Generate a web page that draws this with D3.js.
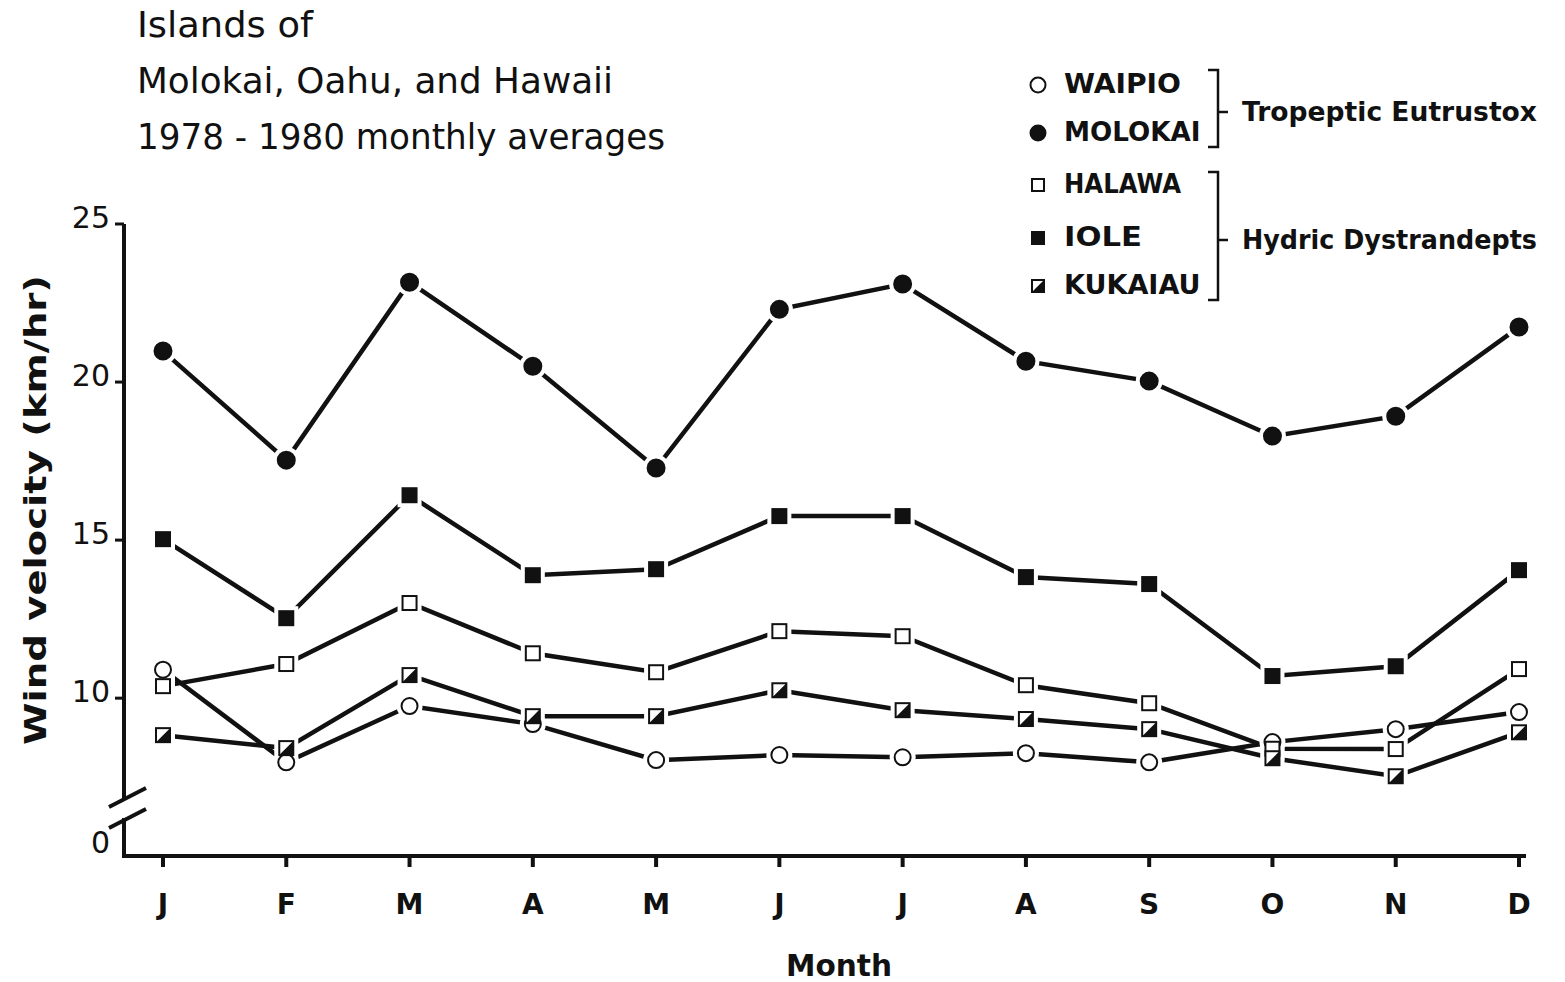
<!DOCTYPE html>
<html>
<head>
<meta charset="utf-8">
<script src="https://cdn.jsdelivr.net/npm/d3@7"></script>
<style>
  body { margin: 0; background: #fff; }
  text { font-family: "DejaVu Sans", sans-serif; fill: #111; }
</style>
</head>
<body>
<svg width="1565" height="982"></svg>
<script>
const months = ['J', 'F', 'M', 'A', 'M', 'J', 'J', 'A', 'S', 'O', 'N', 'D']
const yTicks = [0, 10, 15, 20, 25]

const waipio  = [10.9, 7.97, 9.75, 9.18, 8.04, 8.2, 8.13, 8.26, 7.97, 8.61, 9.02, 9.56]
const molokai = [20.98, 17.53, 23.16, 20.5, 17.28, 22.3, 23.1, 20.66, 20.03, 18.29, 18.92, 21.74]
const halawa  = [10.38, 11.08, 13.01, 11.42, 10.82, 12.12, 11.96, 10.41, 9.84, 8.4, 8.39, 10.92]
const iole    = [15.03, 12.53, 16.42, 13.89, 14.08, 15.76, 15.76, 13.83, 13.61, 10.7, 11.01, 14.05]
const kukaiau = [8.83, 8.42, 10.73, 9.43, 9.43, 10.25, 9.62, 9.34, 9.02, 8.1, 7.53, 8.92]

const series = [
    { name: 'WAIPIO', values: waipio, shape: 'circle', fill: 'open' },
    { name: 'MOLOKAI', values: molokai, shape: 'circle', fill: 'solid' },
    { name: 'HALAWA', values: halawa, shape: 'square', fill: 'open' },
    { name: 'IOLE', values: iole, shape: 'square', fill: 'solid' },
    { name: 'KUKAIAU', values: kukaiau, shape: 'square', fill: 'half' }
]
const groups = [
    { label: 'Tropeptic  Eutrustox', members: ['WAIPIO', 'MOLOKAI'] },
    { label: 'Hydric  Dystrandepts', members: ['HALAWA', 'IOLE', 'KUKAIAU'] }
]
const titleLines = ['Islands  of', 'Molokai, Oahu,  and  Hawaii', '1978 - 1980  monthly  averages']

const svg = d3.select('svg')
const ink = '#111'

const axisX = 124
const baseY = 856

const xScale = d3.scalePoint()
    .domain(d3.range(months.length))
    .range([163, 1519])

// broken axis: 0 sits just above the baseline, the rest is linear from 7 up
const yScale = d3.scaleLinear()
    .domain([0, 7, 25])
    .range([849, 793, 224])

// y axis
const yAxis = svg.append('g')
yAxis.append('line')
    .attr('x1', axisX).attr('x2', axisX)
    .attr('y1', yScale(25)).attr('y2', 798)
    .attr('stroke', ink).attr('stroke-width', 4)
yAxis.append('line')
    .attr('x1', axisX).attr('x2', axisX)
    .attr('y1', 818).attr('y2', baseY + 2)
    .attr('stroke', ink).attr('stroke-width', 4)
yAxis.selectAll('.brk').data([0, 21])
    .enter().append('line')
        .attr('x1', 109).attr('y1', d => 807 + d)
        .attr('x2', 146).attr('y2', d => 788 + d)
        .attr('stroke', ink).attr('stroke-width', 4)
yAxis.selectAll('.tk').data(yTicks.filter(d => d > 0))
    .enter().append('line')
        .attr('x1', axisX - 9).attr('x2', axisX)
        .attr('y1', d => yScale(d)).attr('y2', d => yScale(d))
        .attr('stroke', ink).attr('stroke-width', 3)
yAxis.selectAll('text').data(yTicks)
    .enter().append('text')
        .attr('x', axisX - 14)
        .attr('y', d => yScale(d) - 5)
        .attr('text-anchor', 'end')
        .attr('dominant-baseline', 'middle')
        .attr('font-size', 30)
        .attr('font-weight', 500)
        .text(d => d)

svg.append('text')
    .attr('transform', `translate(46, 510) rotate(-90)`)
    .attr('text-anchor', 'middle')
    .attr('font-size', 31)
    .attr('font-weight', 'bold')
    .attr('textLength', 470)
    .attr('lengthAdjust', 'spacingAndGlyphs')
    .text('Wind velocity (km/hr)')

// x axis
const xAxis = svg.append('g')
xAxis.append('line')
    .attr('x1', axisX - 2).attr('x2', 1526)
    .attr('y1', baseY).attr('y2', baseY)
    .attr('stroke', ink).attr('stroke-width', 4)
xAxis.selectAll('.tk').data(months)
    .enter().append('line')
        .attr('x1', (d, i) => xScale(i)).attr('x2', (d, i) => xScale(i))
        .attr('y1', baseY).attr('y2', baseY + 11)
        .attr('stroke', ink).attr('stroke-width', 4)
xAxis.selectAll('text').data(months)
    .enter().append('text')
        .attr('x', (d, i) => xScale(i))
        .attr('y', 914)
        .attr('text-anchor', 'middle')
        .attr('font-size', 28)
        .attr('font-weight', 'bold')
        .text(d => d)
svg.append('text')
    .attr('x', 839).attr('y', 976)
    .attr('text-anchor', 'middle')
    .attr('font-size', 31)
    .attr('font-weight', 'bold')
    .attr('textLength', 106)
    .attr('lengthAdjust', 'spacingAndGlyphs')
    .text('Month')

// lines
const line = d3.line()
    .x((d, i) => xScale(i))
    .y(d => yScale(d))

svg.append('g').selectAll('path').data(series)
    .enter().append('path')
        .attr('d', d => line(d.values))
        .attr('fill', 'none')
        .attr('stroke', ink)
        .attr('stroke-width', 4.5)

// markers
const drawHalo = (g, s, x, y, size) => {
    if (s.shape === 'circle') {
        g.append('circle').attr('cx', x).attr('cy', y).attr('r', size / 2 + 5).attr('fill', '#fff')
    } else {
        g.append('rect').attr('x', x - size / 2 - 5).attr('y', y - size / 2 - 5)
            .attr('width', size + 10).attr('height', size + 10).attr('fill', '#fff')
    }
}

const drawMarker = (g, s, x, y, size) => {
    if (s.shape === 'circle') {
        g.append('circle')
            .attr('cx', x).attr('cy', y).attr('r', size / 2)
            .attr('fill', s.fill === 'solid' ? ink : '#fff')
            .attr('stroke', ink).attr('stroke-width', 2)
    } else {
        const h = size / 2
        g.append('rect')
            .attr('x', x - h).attr('y', y - h)
            .attr('width', size).attr('height', size)
            .attr('fill', s.fill === 'solid' ? ink : '#fff')
            .attr('stroke', ink).attr('stroke-width', 2)
        if (s.fill === 'half') {
            g.append('path')
                .attr('d', `M${x - h},${y + h} L${x + h},${y - h} L${x + h},${y + h} Z`)
                .attr('fill', ink)
        }
    }
}

const markSize = s => s.shape === 'circle' ? (s.fill === 'solid' ? 17 : 16) : 14

const halos = svg.append('g')
const marks = svg.append('g')
series.forEach(s => {
    s.values.forEach((v, i) => {
        drawHalo(halos, s, xScale(i), yScale(v), markSize(s))
    })
})
series.forEach(s => {
    s.values.forEach((v, i) => {
        drawMarker(marks, s, xScale(i), yScale(v), markSize(s))
    })
})

// legend
const legend = svg.append('g')
const rowY = [85, 133, 185, 238, 286]
series.forEach((s, i) => {
    drawMarker(legend, s, 1038, rowY[i], s.shape === 'circle' ? 15 : 12)
    legend.append('text')
        .attr('x', 1064).attr('y', rowY[i])
        .attr('dominant-baseline', 'middle')
        .attr('font-size', 27)
        .attr('font-weight', 'bold')
        .attr('textLength', s.name.length * 19.5)
        .attr('lengthAdjust', 'spacingAndGlyphs')
        .text(s.name)
})

const bracketX = 1218
const brackets = [
    { top: 70, bottom: 147, mid: 112 },
    { top: 172, bottom: 300, mid: 240 }
]
groups.forEach((g, i) => {
    const b = brackets[i]
    legend.append('path')
        .attr('d', `M${bracketX - 10},${b.top} H${bracketX} V${b.bottom} H${bracketX - 10} M${bracketX},${b.mid} H${bracketX + 10}`)
        .attr('fill', 'none')
        .attr('stroke', ink)
        .attr('stroke-width', 2.5)
    legend.append('text')
        .attr('x', 1242).attr('y', b.mid + 1)
        .attr('dominant-baseline', 'middle')
        .attr('font-size', 27)
        .attr('font-weight', 'bold')
        .attr('textLength', 295)
        .attr('lengthAdjust', 'spacingAndGlyphs')
        .text(g.label)
})

// title
const titleLens = [176, 476, 528]
svg.append('g').selectAll('text').data(titleLines)
    .enter().append('text')
        .attr('x', 137)
        .attr('y', (d, i) => 37 + i * 56)
        .attr('font-size', 36)
        .attr('font-weight', 500)
        .attr('textLength', (d, i) => titleLens[i])
        .attr('lengthAdjust', 'spacingAndGlyphs')
        .text(d => d)
</script>
</body>
</html>
